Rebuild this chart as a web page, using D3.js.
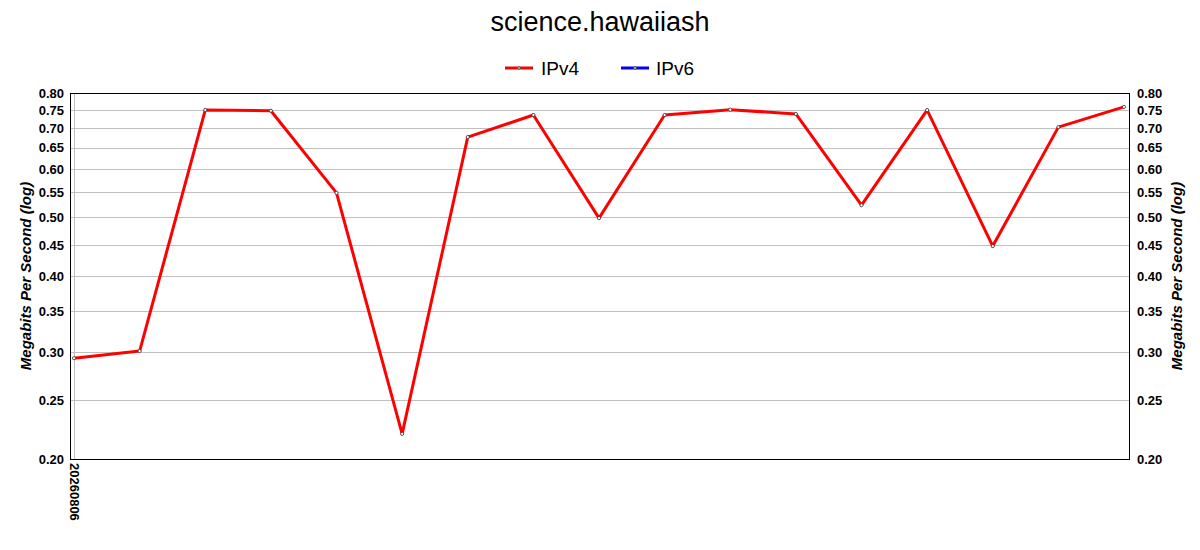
<!DOCTYPE html>
<html><head><meta charset="utf-8">
<script src="https://cdn.jsdelivr.net/npm/d3@7"></script>
<style>body{margin:0;background:#fff;font-family:"Liberation Sans",Arial,sans-serif;}</style>
</head><body><svg id="c" width="1200" height="550"></svg>
<script>
const title = "science.hawaiiash";
const seriesNames = ["IPv4", "IPv6"];
const seriesColors = ["#ff0000", "#0000ff"];
const ipv4 = [0.293, 0.301, 0.750, 0.748, 0.548, 0.220, 0.677, 0.736, 0.498, 0.736, 0.751, 0.739, 0.523, 0.750, 0.448, 0.703, 0.759];
const ipv6 = [];
const xLabels = ["20260806"];
const yTicks = [0.20, 0.25, 0.30, 0.35, 0.40, 0.45, 0.50, 0.55, 0.60, 0.65, 0.70, 0.75, 0.80];
const yLabel = "Megabits Per Second (log)";

const svg = d3.select("#c");
const L = 70, R = 1129, T = 93, B = 459;
const x = d3.scaleLinear().domain([0, ipv4.length - 1]).range([74, 1124]);
const y = d3.scaleLog().domain([0.2, 0.8]).range([B, T]);

svg.append("text").attr("x", 600).attr("y", 31).attr("text-anchor", "middle")
  .attr("font-size", 27).attr("fill", "#000").text(title);

// legend
const lg = [{x: 505, tx: 541}, {x: 621, tx: 656}];
seriesNames.forEach((n, i) => {
  svg.append("line").attr("x1", lg[i].x).attr("x2", lg[i].x + 28).attr("y1", 68).attr("y2", 68)
    .attr("stroke", seriesColors[i]).attr("stroke-width", 3);
  svg.append("circle").attr("cx", lg[i].x + 14).attr("cy", 68).attr("r", 1.3)
    .attr("fill", "#fff").attr("stroke", "#333").attr("stroke-width", 0.8);
  svg.append("text").attr("x", lg[i].tx).attr("y", 75).attr("font-size", 19).attr("fill", "#000").text(n);
});

// grid
svg.append("g").selectAll("line").data(yTicks).join("line")
  .attr("x1", L).attr("x2", R).attr("y1", d => Math.round(y(d)) + 0.5).attr("y2", d => Math.round(y(d)) + 0.5)
  .attr("stroke", "#c0c0c0").attr("stroke-width", 1);
svg.append("line").attr("x1", Math.round(x(0)) + 0.5).attr("x2", Math.round(x(0)) + 0.5)
  .attr("y1", T).attr("y2", B).attr("stroke", "#c0c0c0");

// frame
svg.append("rect").attr("x", L + 0.5).attr("y", T + 0.5).attr("width", R - L).attr("height", B - T)
  .attr("fill", "none").attr("stroke", "#000").attr("stroke-width", 1);

// axes
const fmt = d3.format(".2f");
const la = d3.axisLeft(y).tickValues(yTicks).tickFormat(fmt).tickSize(0).tickPadding(6);
const ra = d3.axisRight(y).tickValues(yTicks).tickFormat(fmt).tickSize(0).tickPadding(7);
const gl = svg.append("g").attr("transform", `translate(${L},0)`).call(la);
const gr = svg.append("g").attr("transform", `translate(${R + 1},0)`).call(ra);
[gl, gr].forEach(g => {
  g.select(".domain").remove();
  g.selectAll("text").attr("font-size", 13).attr("font-weight", "bold").attr("fill", "#000")
    .attr("font-family", "Liberation Sans, Arial, sans-serif");
});

// x label
xLabels.forEach((lab, i) => {
  svg.append("text").attr("transform", `translate(${x(i) - 4},${B + 4}) rotate(90)`)
    .attr("font-size", 13).attr("font-weight", "bold").attr("fill", "#000").text(lab);
});

// y labels
svg.append("text").attr("transform", `translate(31,${(T + B) / 2}) rotate(-90)`).attr("text-anchor", "middle")
  .attr("font-size", 15).attr("font-weight", "bold").attr("font-style", "italic").attr("fill", "#000").text(yLabel);
svg.append("text").attr("transform", `translate(1182,${(T + B) / 2}) rotate(-90)`).attr("text-anchor", "middle")
  .attr("font-size", 15).attr("font-weight", "bold").attr("font-style", "italic").attr("fill", "#000").text(yLabel);

// line
const line = d3.line().x((d, i) => x(i)).y(d => y(d));
svg.append("path").datum(ipv4).attr("d", line).attr("fill", "none")
  .attr("stroke", seriesColors[0]).attr("stroke-width", 3).attr("stroke-linejoin", "round");
svg.append("g").selectAll("circle").data(ipv4).join("circle")
  .attr("cx", (d, i) => x(i)).attr("cy", d => y(d)).attr("r", 1.6)
  .attr("fill", "#fff").attr("stroke", "#333").attr("stroke-width", 0.8);
if (ipv6.length) {
  svg.append("path").datum(ipv6).attr("d", line).attr("fill", "none")
    .attr("stroke", seriesColors[1]).attr("stroke-width", 3);
}
</script></body></html>
